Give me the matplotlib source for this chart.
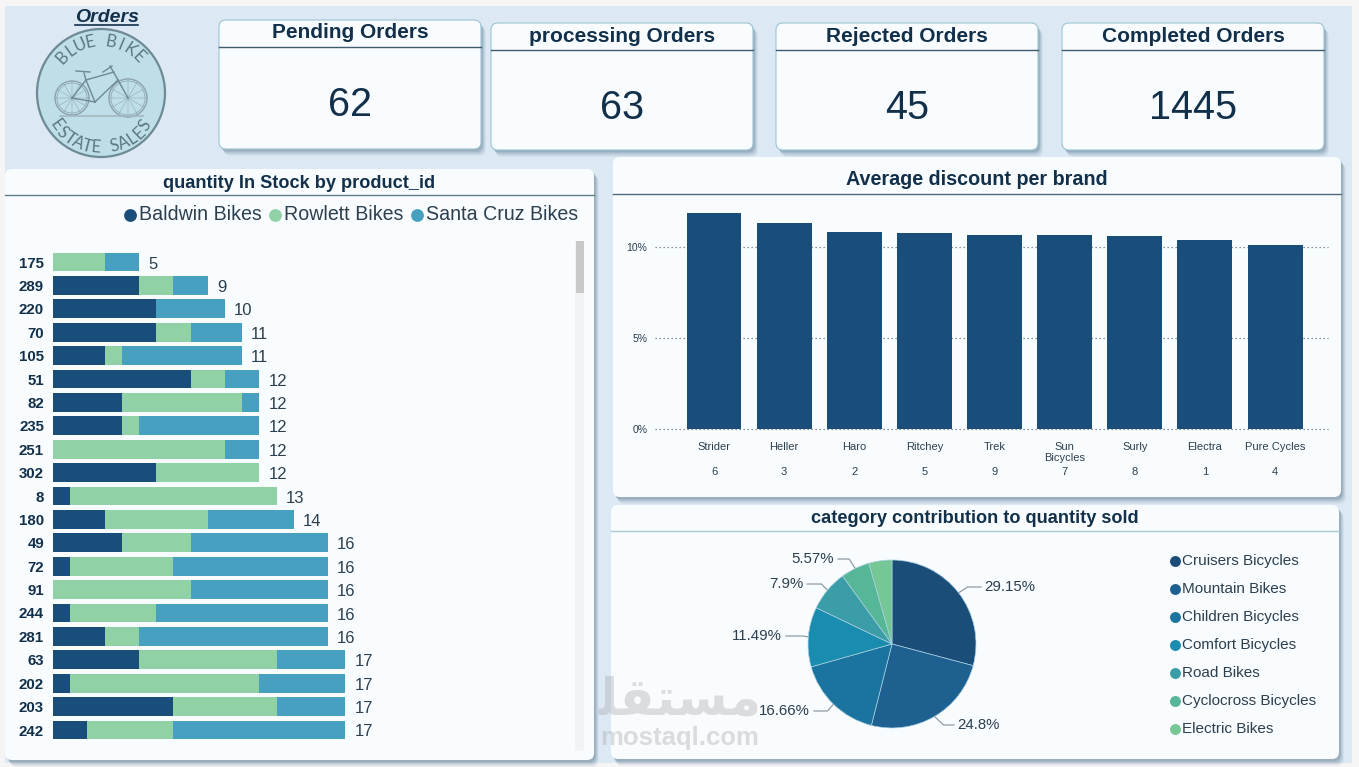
import numpy as np
import matplotlib
matplotlib.use("Agg")
import matplotlib.pyplot as plt
from matplotlib.patches import FancyBboxPatch, Circle, Rectangle

plt.rcParams['font.family'] = ['Liberation Sans', 'DejaVu Sans']

# --- Data ---
kpi_titles = ["Pending Orders", "processing Orders", "Rejected Orders", "Completed Orders"]
kpi_values = ["62", "63", "45", "1445"]

product_ids = ["175", "289", "220", "70", "105", "51", "82", "235", "251", "302", "8",
               "180", "49", "72", "91", "244", "281", "63", "202", "203", "242"]
baldwin = [0, 5, 6, 6, 3, 8, 4, 4, 0, 6, 1, 3, 4, 1, 0, 1, 3, 5, 1, 7, 2]
rowlett = [3, 2, 0, 2, 1, 2, 7, 1, 10, 6, 12, 6, 4, 6, 8, 5, 2, 8, 11, 6, 5]
santa_cruz = [2, 2, 4, 3, 7, 2, 1, 7, 2, 0, 0, 5, 8, 9, 8, 10, 11, 4, 5, 4, 10]
store_names = ["Baldwin Bikes", "Rowlett Bikes", "Santa Cruz Bikes"]

brands = ["Strider", "Heller", "Haro", "Ritchey", "Trek", "Sun\nBicycles", "Surly", "Electra", "Pure Cycles"]
brand_ids = ["6", "3", "2", "5", "9", "7", "8", "1", "4"]
discounts = [11.87, 11.3, 10.8, 10.78, 10.65, 10.65, 10.62, 10.4, 10.13]

categories = ["Cruisers Bicycles", "Mountain Bikes", "Children Bicycles", "Comfort Bicycles",
              "Road Bikes", "Cyclocross Bicycles", "Electric Bikes"]
shares = [29.15, 24.8, 16.66, 11.49, 7.9, 5.57, 4.43]
share_labels = ["29.15%", "24.8%", "16.66%", "11.49%", "7.9%", "5.57%", None]

# --- Styling ---
W, H = 1359, 767
DARK = "#12304a"
TEXT = "#2b3f4f"
PANEL = "#f8fcff"
BG = "#dce9f4"
store_colors = ["#1a4e7a", "#90d2a5", "#47a0c0"]
pie_colors = ["#1a4d78", "#1e6090", "#1b74a0", "#1a8cb0", "#3a9da8", "#55b698", "#76c796"]

fig = plt.figure(figsize=(W / 100, H / 100), dpi=100, facecolor="#f5f5f5")


def px_axes(x0, y0, x1, y1, **kw):
    # axes from pixel box, y counted from the top
    return fig.add_axes([x0 / W, 1 - y1 / H, (x1 - x0) / W, (y1 - y0) / H], **kw)


bg = px_axes(0, 0, W, H, zorder=0)
bg.set_xlim(0, W)
bg.set_ylim(H, 0)
bg.axis("off")
bg.add_patch(Rectangle((5, 6), 1347, 757, fc=BG, ec="none"))


def panel(x0, y0, x1, y1, line_y, title, size, title_y, line_color="#5f7f8c", edge="none"):
    for off, alpha in [(7, 0.06), (6, 0.07), (5, 0.08), (4, 0.10), (3, 0.12), (2, 0.14)]:
        bg.add_patch(FancyBboxPatch((x0 + off * 0.7, y0 + off), x1 - x0, y1 - y0,
                                    boxstyle="round,pad=0,rounding_size=7",
                                    fc="#4d6a80", ec="none", alpha=alpha))
    bg.add_patch(FancyBboxPatch((x0, y0), x1 - x0, y1 - y0, boxstyle="round,pad=0,rounding_size=7",
                                fc=PANEL, ec=edge, lw=0.8))
    bg.plot([x0, x1], [line_y, line_y], color=line_color, lw=1)
    bg.text((x0 + x1) / 2, title_y, title, ha="center", va="center", fontsize=size,
            fontweight="bold", color=DARK)


# --- KPI cards ---
kpi_boxes = [(219, 20, 481, 149, 47, 33), (491, 23, 753, 150, 50, 36),
             (776, 23, 1038, 150, 50, 36), (1062, 23, 1324, 150, 50, 36)]
for box, title, value in zip(kpi_boxes, kpi_titles, kpi_values):
    panel(box[0], box[1], box[2], box[3], box[4], title, 15, box[5], line_color="#3d5c6e", edge="#9cc4d2")
    bg.text((box[0] + box[2]) / 2 + 0.5, box[4] + 58, value, ha="center", va="center", fontsize=28.5, color=DARK)

# --- Title + logo ---
bg.text(107, 17, "Orders", ha="center", va="center", fontsize=14, fontweight="bold", style="italic", color=DARK)
bg.plot([75, 138], [24.5, 24.5], color=DARK, lw=1.2)

lx, ly, lr = 101, 93, 64
bg.add_patch(Circle((lx, ly), lr, fc="#bedfe8", ec="#6e8a94", lw=1.6))


def arc_text(s, start_deg, step_deg, radius, bottom=False):
    for i, ch in enumerate(s):
        ang = np.radians(start_deg + i * step_deg)
        x = lx + radius * np.cos(ang)
        y = ly - radius * np.sin(ang)
        rot = np.degrees(ang) + (90 if bottom else -90)
        bg.text(x, y, ch, ha="center", va="center", rotation=rot, rotation_mode="anchor",
                fontsize=12, color="#5b7782", family="Lato")


arc_text("BLUE BIKE", 137, -11.6, 52)
arc_text("ESTATE SALES", 216, 9.8, 55, bottom=True)

# small bike sketch
bike = "#8ba2ab"
for cx, cy, r in [(72, 98, 17), (128, 98, 19)]:
    bg.add_patch(Circle((cx, cy), r, fc="none", ec=bike, lw=1.0))
    bg.add_patch(Circle((cx, cy), r - 2, fc="none", ec=bike, lw=0.5))
    for a in np.linspace(0, np.pi, 7)[:-1]:
        bg.plot([cx - r * np.cos(a), cx + r * np.cos(a)], [cy - r * np.sin(a), cy + r * np.sin(a)],
                color=bike, lw=0.35)
for xs, ys in [([72, 95], [98, 102]), ([95, 118], [102, 80]), ([86, 114], [80, 72]),
               ([86, 95], [80, 102]), ([118, 128], [80, 98]), ([72, 86], [98, 80]),
               ([110, 118], [66, 80]), ([103, 112], [72, 66]), ([76, 90], [71, 72]), ([86, 84], [80, 73])]:
    bg.plot(xs, ys, color="#6f8994", lw=1.0)
bg.plot([60, 143], [116, 116], color="#a3b8bf", lw=1.2)

# --- Stock panel ---
panel(5, 169, 594, 760, 195, "quantity In Stock by product_id", 13.1, 183)
legend_x = [(130, 139), (275, 284), (417, 426)]
for (dot_x, txt_x), name, color in zip(legend_x, store_names, store_colors):
    bg.scatter([dot_x], [214.5], s=85, color=color, linewidths=0)
    bg.text(txt_x, 214, name, ha="left", va="center", fontsize=14.1, color=TEXT)

# scrollbar
bg.add_patch(Rectangle((575, 241), 9, 510, fc="#f1f3f5", ec="none"))
bg.add_patch(Rectangle((576, 241), 8, 52, fc="#c9c9c9", ec="none"))

row_step = 23.4
n_rows = len(product_ids)
unit_px = 17.2
ax_stock = px_axes(53, 262 - row_step * 0.5, 570, 262 + row_step * (n_rows - 0.5), zorder=2)
ax_stock.patch.set_alpha(0)
ys = np.arange(n_rows)
left = np.zeros(n_rows)
for vals, color, name in zip([baldwin, rowlett, santa_cruz], store_colors, store_names):
    ax_stock.barh(ys, vals, left=left, height=0.81, color=color, label=name)
    left = left + np.array(vals)
for y, total in zip(ys, left):
    ax_stock.annotate(f"{int(total)}", (total, y), xytext=(9, -2), textcoords="offset pixels",
                      ha="left", va="center", fontsize=12, color=TEXT)
ax_stock.set_ylim(n_rows - 0.5, -0.5)
ax_stock.set_xlim(0, 517 / unit_px)
ax_stock.set_yticks(ys, product_ids, fontsize=10.8, fontweight="bold", color=DARK)
ax_stock.set_xticks([])
ax_stock.tick_params(axis="y", length=0, pad=6.5)
for s in ax_stock.spines.values():
    s.set_visible(False)

# --- Discount panel ---
panel(613, 157, 1341, 497, 194, "Average discount per brand", 14.2, 179.5, line_color="#4f6b7a")
px_per_pct = 18.2
bar_step = 70.14
ax_disc = px_axes(655, 429 - 12.6 * px_per_pct, 1328, 429, zorder=2)
ax_disc.patch.set_alpha(0)
xs = np.arange(len(brands))
ax_disc.bar(xs, discounts, width=0.784, color="#1a4e7a", zorder=3)
ax_disc.set_xlim((655 - 714) / bar_step, (1328 - 714) / bar_step)
ax_disc.set_ylim(0, 12.6)
ax_disc.set_yticks([0, 5, 10], ["0%", "5%", "10%"], fontsize=7.5, color=TEXT)
ax_disc.grid(axis="y", linestyle=(0, (1, 2.2)), color="#66757f", lw=0.9, zorder=1, clip_on=False)
ax_disc.set_axisbelow(True)
ax_disc.set_xticks(xs, brands, fontsize=8, color=TEXT, linespacing=1.15, va="top")
ax_disc.tick_params(axis="x", length=0, pad=9.5)
ax_disc.tick_params(axis="y", length=0, pad=5.5)
for s in ax_disc.spines.values():
    s.set_visible(False)
for x, bid in zip(xs, brand_ids):
    ax_disc.annotate(bid, (x, 0), xytext=(0, -43), textcoords="offset pixels",
                     ha="center", va="center", fontsize=8, color=TEXT)

# --- Pie panel ---
panel(611, 505, 1339, 759, 531, "category contribution to quantity sold", 13.1, 518.5, line_color="#a8ccd2")

# watermark goes over the panels, light grey
bg.text(680, 701, "\ufee0\ufed8\ufe98\ufeb4\ufee3", ha="center", va="center", fontsize=37, fontweight="bold",
        color="#a9acae", alpha=0.38, family="DejaVu Sans", zorder=5)
bg.text(680, 738, "mostaql.com", ha="center", va="center", fontsize=18.5, fontweight="bold",
        color="#a9acae", alpha=0.4, zorder=5)

ax_pie = px_axes(892 - 100, 644 - 100, 892 + 100, 644 + 100, zorder=2)
ax_pie.patch.set_alpha(0)
wedges, _ = ax_pie.pie(shares, colors=pie_colors, startangle=90, counterclock=False, radius=0.84,
                       wedgeprops=dict(edgecolor="#a9cfe0", linewidth=0.5))
ax_pie.set_xlim(-1, 1)
ax_pie.set_ylim(-1, 1)

# label text position in figure pixels
label_px = [(984, 587), (957, 725), (810, 711), (782, 636), (803, 584), (834, 559)]
for wedge, lab, txt_pos in zip(wedges, share_labels, label_px):
    mid = np.radians((wedge.theta1 + wedge.theta2) / 2)
    ex, ey = 892 + 84 * np.cos(mid), 644 - 84 * np.sin(mid)
    right_side = np.cos(mid) > 0
    if right_side:
        xs_line = [ex, ex + 9, txt_pos[0] - 3]
    else:
        xs_line = [ex, ex - 6, txt_pos[0] + 4]
    bg.plot(xs_line, [ey, txt_pos[1], txt_pos[1]], color="#8f9ca5", lw=0.9, zorder=1)
    bg.text(txt_pos[0], txt_pos[1], lab, ha="left" if right_side else "right", va="center",
            fontsize=10.8, color=TEXT, zorder=6)

for i, (cat, color) in enumerate(zip(categories, pie_colors)):
    y = 561 + i * 28
    bg.scatter([1174.5], [y], s=62, color=color, linewidths=0)
    bg.text(1182, y, cat, ha="left", va="center", fontsize=11, color=TEXT)

fig.savefig("out.png", dpi=100, facecolor=fig.get_facecolor())
